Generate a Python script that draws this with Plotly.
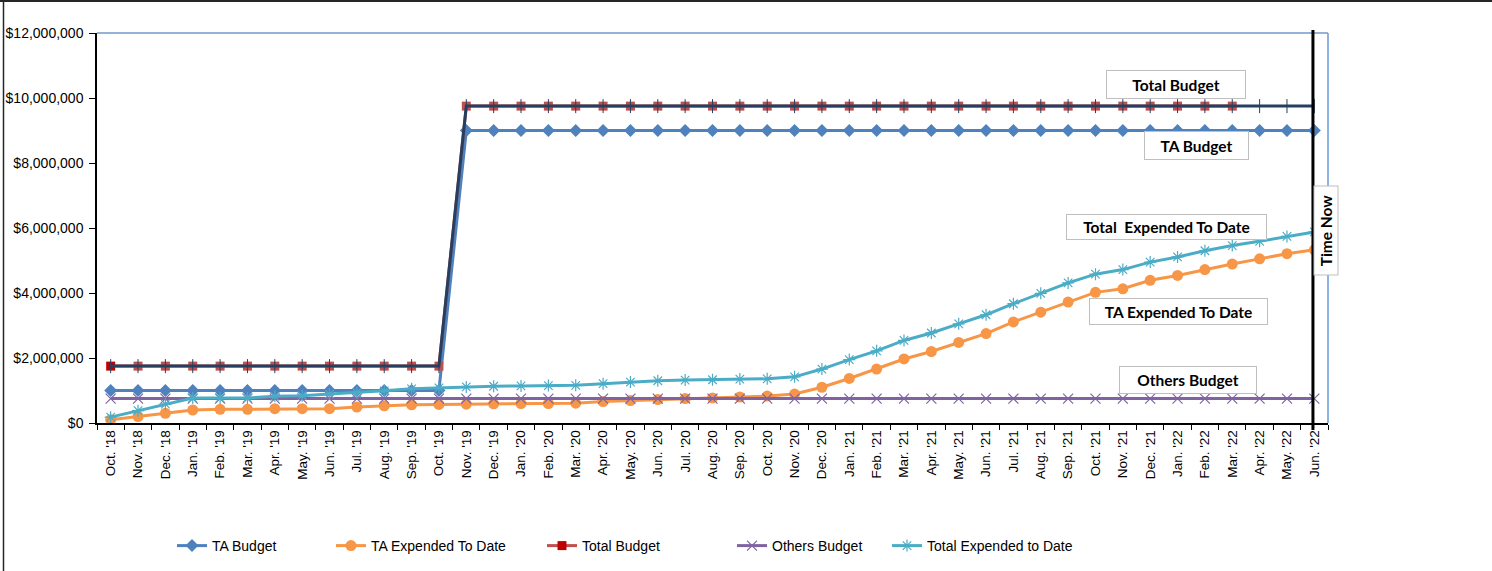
import plotly.graph_objects as go

months = ["Oct. '18", "Nov. '18", "Dec. '18",
          "Jan. '19", "Feb. '19", "Mar. '19", "Apr. '19", "May. '19", "Jun. '19",
          "Jul. '19", "Aug. '19", "Sep. '19", "Oct. '19", "Nov. '19", "Dec. '19",
          "Jan. '20", "Feb. '20", "Mar. '20", "Apr. '20", "May. '20", "Jun. '20",
          "Jul. '20", "Aug. '20", "Sep. '20", "Oct. '20", "Nov. '20", "Dec. '20",
          "Jan. '21", "Feb. '21", "Mar. '21", "Apr. '21", "May. '21", "Jun. '21",
          "Jul. '21", "Aug. '21", "Sep. '21", "Oct. '21", "Nov. '21", "Dec. '21",
          "Jan. '22", "Feb. '22", "Mar. '22", "Apr. '22", "May. '22", "Jun. '22"]

ta_budget = [1000000] * 13 + [9000000] * 32
total_budget = [1750000] * 13 + [9750000] * 29 + [None] * 3
total_budget_line = [1750000] * 13 + [9750000] * 32
others_budget = [750000] * 45

ta_expended = [100000, 200000, 300000, 400000, 420000, 420000, 440000, 440000, 440000,
               490000, 530000, 560000, 570000, 580000, 590000, 600000, 600000, 610000,
               660000, 690000, 720000, 750000, 770000, 800000, 830000, 890000, 1100000,
               1370000, 1660000, 1970000, 2200000, 2480000, 2750000, 3110000, 3410000,
               3720000, 4020000, 4130000, 4390000, 4540000, 4720000, 4890000, 5050000,
               5210000, 5330000]

total_expended = [180000, 380000, 580000, 770000, 770000, 770000, 820000, 840000, 890000,
                  930000, 990000, 1050000, 1080000, 1110000, 1130000, 1140000, 1150000,
                  1160000, 1210000, 1260000, 1300000, 1320000, 1330000, 1350000, 1360000,
                  1420000, 1660000, 1950000, 2220000, 2540000, 2770000, 3050000, 3330000,
                  3670000, 3990000, 4310000, 4580000, 4720000, 4950000, 5110000, 5300000,
                  5460000, 5590000, 5740000, 5880000]

y_ticks = [0, 2000000, 4000000, 6000000, 8000000, 10000000, 12000000]
y_tick_text = ["$0", "$2,000,000", "$4,000,000", "$6,000,000", "$8,000,000",
               "$10,000,000", "$12,000,000"]

C_BLUE = "#4F81BD"
C_ORANGE = "#F79646"
C_RED = "#C0504D"
C_NAVY = "#243F60"
C_PURPLE = "#8064A2"
C_TEAL = "#4BACC6"

W, H = 1492, 571
L, R, T, B = 97, 164, 33, 148
PW, PH = W - L - R, H - T - B

def px(x):
    return (x - L) / PW

def py(y):
    return (H - B - y) / PH

fig = go.Figure()

leg_font = dict(family="Liberation Sans, Arial", size=14, color="#000000")

fig.add_trace(go.Scatter(
    x=months, y=ta_budget, name="TA Budget", mode="lines+markers",
    line=dict(color=C_BLUE, width=3),
    marker=dict(symbol="diamond", size=10, color=C_BLUE),
    legend="legend"))
fig.add_trace(go.Scatter(
    x=months, y=ta_expended, name="TA Expended To Date", mode="lines+markers",
    line=dict(color=C_ORANGE, width=3),
    marker=dict(symbol="circle", size=11, color=C_ORANGE),
    legend="legend2"))
fig.add_trace(go.Scatter(
    x=months, y=total_budget, name="Total Budget", mode="lines+markers",
    line=dict(color=C_RED, width=3),
    marker=dict(symbol="square", size=9,
                color=["#C00000"] + [C_RED] * 44),
    legend="legend3"))
fig.add_trace(go.Scatter(
    x=months, y=total_budget_line, name="Total Budget line", mode="lines+markers",
    line=dict(color=C_NAVY, width=3),
    marker=dict(symbol="line-ns-open", size=10, color=C_NAVY, line=dict(width=1, color=C_NAVY)),
    showlegend=False))
fig.add_trace(go.Scatter(
    x=months, y=others_budget, name="Others Budget", mode="lines+markers",
    line=dict(color=C_PURPLE, width=3),
    marker=dict(symbol="x-thin-open", size=10, color=C_PURPLE, line=dict(width=1.2, color=C_PURPLE)),
    legend="legend4"))
fig.add_trace(go.Scatter(
    x=months, y=total_expended, name="Total Expended to Date", mode="lines+markers",
    line=dict(color=C_TEAL, width=3),
    marker=dict(symbol="asterisk-open", size=10, color=C_TEAL, line=dict(width=1.2, color=C_TEAL)),
    legend="legend5"))

# Legends positioned individually (container coordinates)
leg_x = [172, 331, 542, 732, 887]
leg_names = ["legend", "legend2", "legend3", "legend4", "legend5"]
leg_layout = {}
for name, lx in zip(leg_names, leg_x):
    leg_layout[name] = dict(
        x=lx / W, y=(H - 546) / H, xref="container", yref="container",
        xanchor="left", yanchor="middle", orientation="h",
        font=leg_font, bgcolor="rgba(0,0,0,0)", itemwidth=30,
        tracegroupgap=0)
fig.update_layout(**leg_layout)

ann_font = dict(family="Lato, Open Sans, sans-serif", size=15.5, color="#000000")
labels = [
    ("Total Budget", 1176, 84, 140, 29),
    ("TA Budget", 1196, 145, 105, 29),
    ("Total  Expended To Date", 1166, 227, 201, 26),
    ("TA Expended To Date", 1178, 311, 179, 27),
    ("Others Budget", 1188, 380, 138, 28),
]
anns = []
for text, cx, cy, bw, bh in labels:
    anns.append(dict(
        text="<b>" + text.replace("  ", "&nbsp; ") + "</b>", x=px(cx), y=py(cy),
        xref="paper", yref="paper", xanchor="center", yanchor="middle",
        showarrow=False, font=ann_font, bgcolor="#FFFFFF",
        bordercolor="#BFBFBF", borderwidth=1, borderpad=0,
        width=bw - 2, height=bh - 2, align="center", valign="middle"))
anns.append(dict(
    text="<b>Time Now</b>", x=px(1325.5), y=py(231),
    xref="paper", yref="paper", xanchor="center", yanchor="middle",
    showarrow=False, font=ann_font, bgcolor="#FFFFFF",
    bordercolor="#BFBFBF", borderwidth=1, borderpad=0,
    width=88, height=23, textangle=-90, align="center", valign="middle"))

shapes = [
    dict(type="line", xref="paper", yref="paper", x0=0, x1=1, y0=1, y1=1,
         line=dict(color="#95B3D7", width=2), layer="below"),
    dict(type="line", xref="paper", yref="paper", x0=1, x1=1, y0=0, y1=1,
         line=dict(color="#6A9BD8", width=1.5), layer="below"),
    dict(type="line", xref="x", yref="paper", x0=43.95, x1=43.95,
         y0=py(430), y1=py(30), line=dict(color="#000000", width=3)),
    dict(type="line", xref="paper", yref="paper", x0=px(0), x1=px(W), y0=py(1), y1=py(1),
         line=dict(color="#262626", width=2)),
    dict(type="line", xref="paper", yref="paper", x0=px(3.5), x1=px(3.5), y0=py(0), y1=py(H),
         line=dict(color="#262626", width=1.5)),
]

fig.update_layout(
    width=W, height=H,
    margin=dict(l=L, r=R, t=T, b=B, pad=0),
    paper_bgcolor="#FFFFFF", plot_bgcolor="#FFFFFF",
    font=dict(family="Liberation Sans, Arial", size=13.5, color="#000000"),
    annotations=anns, shapes=shapes,
    xaxis=dict(
        type="category", range=[-0.5, 44.5], tickangle=-90,
        tickson="boundaries", ticks="outside", ticklen=5, tickcolor="#000000",
        showline=True, linecolor="#000000", linewidth=1.5,
        showgrid=False, zeroline=False, automargin=False,
        tickfont=dict(family="Liberation Sans, Arial", size=13.5, color="#000000")),
    yaxis=dict(
        range=[0, 12000000], tickvals=y_ticks, ticktext=y_tick_text,
        ticks="outside", ticklen=6, tickcolor="#000000", ticklabelstandoff=3,
        showline=True, linecolor="#000000", linewidth=1.5,
        showgrid=False, zeroline=False, automargin=False,
        tickfont=dict(family="Liberation Sans, Arial", size=14, color="#000000")),
)

fig.write_html("out.html", config={"displayModeBar": False},
               post_script="document.body.style.margin='0';document.body.style.overflow='hidden';")
